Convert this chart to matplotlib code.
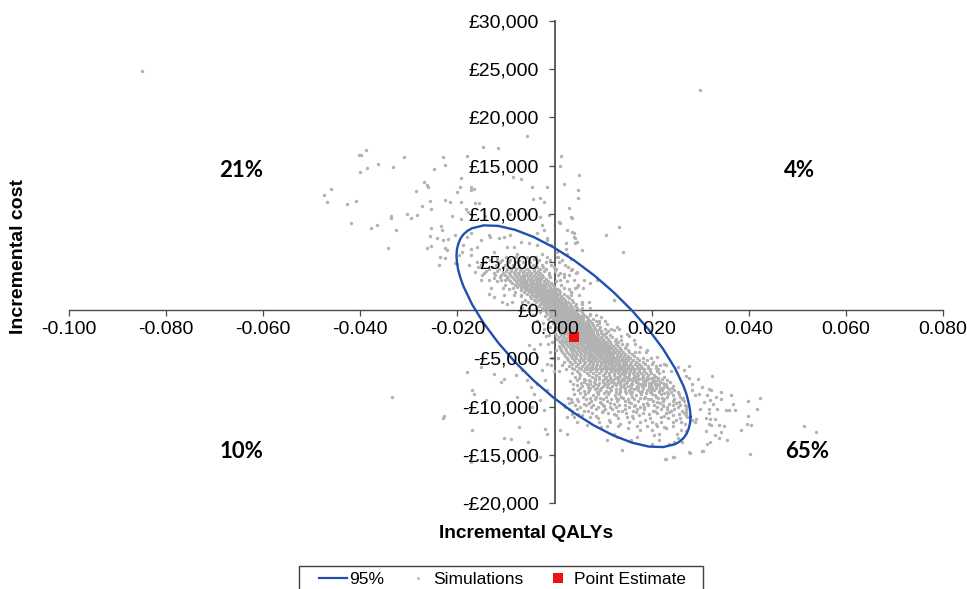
import numpy as np
import matplotlib
matplotlib.use('Agg')
import matplotlib.pyplot as plt
from matplotlib.lines import Line2D
from matplotlib.patches import Rectangle

plt.rcParams['font.family'] = ['Liberation Sans', 'DejaVu Sans']

# x values are in thousandths of a QALY, y values in pounds
x_ticks = [-0.100, -0.080, -0.060, -0.040, -0.020, 0.000, 0.020, 0.040, 0.060, 0.080]
x_tick_labels = ['-0.100', '-0.080', '-0.060', '-0.040', '-0.020', '0.000', '0.020', '0.040', '0.060', '0.080']
y_ticks = [30000, 25000, 20000, 15000, 10000, 5000, 0, -5000, -10000, -15000, -20000]
y_tick_labels = ['£30,000', '£25,000', '£20,000', '£15,000', '£10,000', '£5,000', '£0',
                 '-£5,000', '-£10,000', '-£15,000', '-£20,000']

point_estimate = (4.0, -2770)

ellipse_95 = [(28.0, -11075), (27.9, -11732), (27.6, -12317), (27.18, -12838), (26.55, -13271), (25.74, -13633),
              (24.77, -13906), (22.36, -14200), (19.39, -14144),
              (15.95, -13741), (12.14, -13000), (8.09, -11950), (3.9, -10617), (-0.29, -9040), (-4.34, -7275),
              (-8.15, -5370), (-11.59, -3383), (-14.56, -1376), (-16.97, 591), (-18.75, 2458), (-19.38, 3336),
              (-19.84, 4170), (-20.1, 4949), (-20.2, 5675), (-20.1, 6332), (-19.8, 6917), (-19.38, 7438),
              (-18.75, 7871), (-17.94, 8233), (-16.97, 8506), (-14.56, 8800), (-11.59, 8744),
              (-8.15, 8341), (-4.34, 7600), (-0.29, 6550), (3.9, 5217), (8.09, 3640), (12.14, 1875),
              (15.95, -30), (19.39, -2017), (22.36, -4024), (24.77, -5991), (26.55, -7858), (27.18, -8736),
              (27.6, -9570), (27.9, -10349), (28.0, -11075)]

# scattered simulations read one by one
sims_far = [(-85.0, 24800), (30.0, 22800), (-33.4, -9020), (13.3, 8650), (10.5, 7850), (14.1, 6020)]

sims_upper_left = [
    (-38.8, 16600), (-40.2, 16090), (-39.8, 16090), (-36.3, 15150), (-33.3, 14900), (-31.0, 15880), (-23.0, 15850),
    (-22.6, 15050), (-24.9, 14600), (-40.1, 14360), (-38.6, 14700), (-46.0, 12600), (-47.4, 11970), (-46.8, 11200),
    (-42.8, 11000), (-40.9, 11300), (-41.9, 9070), (-37.8, 8550), (-36.5, 8820), (-33.6, 9760), (-33.6, 9550),
    (-32.7, 8340), (-34.4, 6500), (-30.3, 10030), (-29.5, 9580), (-28.3, 9830), (-27.4, 10800), (-25.5, 10450),
    (-25.7, 11310), (-28.6, 12350), (-26.8, 13250), (-26.2, 12980), (-26.0, 12730), (-22.5, 11420), (-21.6, 11210),
    (-20.0, 12250), (-19.4, 12730), (-19.2, 13670), (-17.3, 12800), (-17.2, 12460), (-16.5, 12560), (-19.2, 11210),
    (-21.1, 9760), (-18.2, 10520), (-17.9, 10200), (-16.3, 11070), (-15.5, 11140), (-19.2, 9510), (-25.5, 8510),
    (-23.4, 8750), (-23.2, 8300), (-25.7, 7720), (-24.2, 7470), (-23.0, 7270), (-21.9, 7370), (-20.5, 7850),
    (-26.2, 6440), (-25.4, 6710), (-22.5, 6500), (-22.2, 6230), (-23.6, 5540), (-23.8, 4640), (-22.5, 5400),
    (-20.6, 4910), (-14.8, 16950), (-11.6, 16820), (-5.7, 18030), (-18.1, 15990), (-8.5, 13770), (-7.0, 13630),
    (-4.6, 12730), (-1.5, 12730), (-4.5, 11490), (-2.9, 11590), (-2.2, 11250), (-14.4, 9760), (-11.9, 9410),
    (-9.1, 9960), (-7.5, 10310), (-5.6, 10030), (-2.9, 9620), (-1.2, 9860), (-2.5, 8890), (-2.2, 8370),
    (-3.6, 7960), (-1.5, 7440), (1.4, 15990), (1.9, 13040), (5.1, 14010), (4.9, 11660), (3.0, 10550),
    (3.5, 9580), (0.9, 9170), (4.0, 7960), (4.3, 7440), (2.3, 6400), (0.5, 6050), (1.2, 15000), (4.9, 12440),
    (-18.0, 7610), (-17.3, 7960), (-19.0, 6060), (-19.7, 5710), (-20.0, 4840), (-17.6, 4670), (-18.8, 6750),
    (-17.3, 6400), (-15.9, 6570), (-15.2, 7270), (-13.5, 7790), (-13.2, 7610), (-11.5, 7440), (-10.4, 7610),
    (-9.1, 7790), (-7.0, 7090), (-5.3, 6920), (-3.6, 6750), (-1.5, 7270), (-9.7, 6570), (-8.4, 6570),
    (-12.5, 6060), (-11.8, 5360), (-15.9, 5020), (-16.3, 3980), (-15.2, 3110), (-13.5, 1730), (-12.5, 1380),
    (-10.8, 870), (-9.7, 690), (-12.5, 3290), (-11.1, 3110), (-7.7, 5880), (-5.6, 5540), (-4.3, 5360),
    (-2.5, 5880), (-0.8, 6750), (-17.3, 5710), (-14.6, 3810)]

sims_upper_right = [
    (1.9, 3800), (3.3, 4150), (4.7, 3980), (6.0, 3110), (7.4, 2770), (4.7, 2420), (3.3, 1900), (2.6, 8300),
    (3.6, 8130), (4.0, 7610), (4.3, 6920), (2.3, 6920), (1.2, 9000), (3.3, 9690), (4.7, 7090), (5.7, 6230),
    (2.6, 5880), (0.5, 5540), (3.3, 5360), (8.8, 3110), (12.2, 1040), (5.7, 690), (7.4, -350), (9.5, -690),
    (10.8, -1380), (12.9, -1730), (15.0, -2420), (16.3, -3110), (19.1, -4150), (21.1, -4840), (22.5, -5540),
    (17.7, -3800), (13.6, -3110), (12.2, -2080), (10.2, -2420)]

sims_lower_left = [
    (-22.8, -11000), (-18.0, -6400), (-17.0, -8300), (-16.6, -8650), (-15.2, -5880), (-12.5, -6570), (-11.1, -7440),
    (-10.4, -7090), (-14.2, -9340), (-7.3, -12110), (-8.9, -13360), (-5.5, -13670), (-1.9, -12280), (-1.5, -12800),
    (-3.9, -14880), (-2.9, -15220), (-9.7, -9690), (-7.7, -9000), (-4.6, -10030), (-4.3, -8650), (-2.9, -9340),
    (-2.2, -10380), (-5.6, -7270), (-8.0, -6750), (-6.7, -6230), (-4.9, -7960), (-3.6, -7610), (-1.5, -8300),
    (-1.9, -7270), (-2.5, -6230), (-1.5, -5540), (-5.3, -3630), (-4.3, -3980), (-2.9, -3460), (-3.6, -4840),
    (-5.3, -5190), (-22.9, -11200), (-17.3, -15760), (-16.9, -12440), (-10.5, -13270), (-8.0, -14700), (-15.2, -15500)]

sims_lower_right = [
    (25.5, -5880), (26.6, -6160), (27.7, -5810), (27.0, -6850), (27.7, -6990), (29.5, -7160), (32.4, -6850),
    (28.4, -7610), (30.4, -7960), (31.8, -8130), (32.3, -8300), (34.2, -8480), (36.4, -8750), (28.4, -8300),
    (29.7, -8650), (29.0, -8820), (31.4, -8820), (33.2, -9000), (34.2, -9170), (30.8, -9520), (32.1, -9270),
    (32.7, -9690), (29.9, -10210), (31.8, -10210), (33.4, -10280), (35.4, -10380), (35.9, -10310), (37.1, -10380),
    (39.8, -9450), (42.3, -9100), (41.7, -10280), (36.8, -9760), (31.8, -10620), (39.8, -11000), (39.7, -11760),
    (40.5, -11870), (38.5, -12390), (31.1, -11140), (32.1, -11250), (33.0, -11250), (29.2, -11250), (28.4, -11420),
    (29.0, -11590), (31.8, -11760), (32.3, -11940), (33.8, -11870), (34.9, -12010), (31.1, -12560), (34.2, -12630),
    (33.0, -12900), (33.8, -13250), (35.6, -13420), (32.1, -13670), (31.3, -13910), (30.6, -14640), (27.9, -14770),
    (40.2, -14880), (24.4, -15260), (22.7, -15470), (51.4, -12010), (53.9, -12630), (20.0, -12460), (21.5, -12800),
    (22.9, -12180), (26.0, -12390), (27.0, -12530), (21.5, -13420), (25.5, -13220), (23.5, -13840), (24.6, -13670),
    (20.1, -13910), (1.2, -12460), (2.6, -11070), (4.0, -11070), (4.7, -11590), (3.6, -10730), (6.7, -11940),
    (9.5, -12110), (10.8, -13490), (13.9, -14530), (15.7, -13490), (17.0, -13150), (12.2, -12800), (22.9, -15400),
    (24.6, -15220), (27.7, -14700), (30.4, -14600), (26.3, -13670), (12.9, -13150), (17.7, -12460), (20.5, -12980),
    (22.5, -12110), (25.3, -12800), (2.6, -12800)]

# the dense band, read row by row: (cost, [qalys along that row])
sims_band = [
    (5200, [-13.2, -10.8, -9.1, -7.4, -5.2, -3.3, -0.9, 1.6]),
    (4700, [-15.1, -12.1, -10.2, -8.6, -7.3, -6.0, -4.4, -2.6, -0.8, 2.2]),
    (4250, [-13.6, -11.4, -9.8, -8.9, -7.9, -6.9, -5.6, -4.2, -3.1, -1.7, 0.4, 3.5]),
    (3850, [-12.5, -10.6, -9.4, -8.3, -7.5, -6.6, -5.7, -4.8, -3.8, -2.9, -1.2, 1.1, 4.4]),
    (3450, [-11.2, -9.7, -8.7, -7.8, -7.0, -6.2, -5.4, -4.6, -3.9, -3.1, -2.3, -0.9, 1.9]),
    (3050, [-11.8, -9.1, -8.0, -7.2, -6.5, -5.8, -5.1, -4.4, -3.7, -3.0, -2.2, -1.4, 0.2, 2.6]),
    (2650, [-10.3, -8.2, -7.3, -6.6, -5.9, -5.2, -4.6, -3.9, -3.2, -2.5, -1.9, -1.2, -0.4, 1.4, 4.8]),
    (2250, [-9.4, -7.0, -6.1, -5.4, -4.8, -4.1, -3.5, -2.9, -2.3, -1.7, -1.0, -0.4, 0.6, 2.9]),
    (1850, [-8.1, -6.2, -5.3, -4.6, -4.0, -3.4, -2.8, -2.2, -1.6, -1.0, -0.4, 0.2, 1.1, 3.4]),
    (1450, [-6.9, -5.0, -4.2, -3.6, -3.0, -2.4, -1.8, -1.2, -0.6, 0.0, 0.6, 1.4, 2.6]),
    (1050, [-6.0, -4.3, -3.4, -2.8, -2.2, -1.6, -1.0, -0.4, 0.2, 0.8, 1.4, 2.2, 3.6]),
    (650, [-4.6, -3.1, -2.4, -1.8, -1.2, -0.6, 0.0, 0.6, 1.2, 1.8, 2.4, 3.1, 4.4]),
    (250, [-3.9, -2.6, -1.9, -1.3, -0.7, -0.1, 0.5, 1.1, 1.7, 2.3, 2.9, 3.6, 4.7]),
    (-150, [-2.9, -1.7, -1.0, -0.4, 0.2, 0.8, 1.4, 2.0, 2.6, 3.2, 3.8, 4.5, 5.6]),
    (-550, [-2.0, -1.0, -0.3, 0.3, 0.9, 1.5, 2.1, 2.7, 3.3, 3.9, 4.5, 5.2, 6.2]),
    (-950, [-1.4, -0.4, 0.4, 1.0, 1.6, 2.2, 2.8, 3.4, 4.0, 4.6, 5.2, 5.9, 6.9, 8.0]),
    (-1350, [-2.4, -0.3, 0.6, 1.3, 2.0, 2.6, 3.2, 3.8, 4.4, 5.0, 5.6, 6.2, 6.9, 7.8, 9.1]),
    (-1750, [-1.0, 0.3, 1.1, 1.8, 2.5, 3.1, 3.7, 4.3, 4.9, 5.5, 6.1, 6.7, 7.4, 8.2, 9.4]),
    (-2150, [-0.2, 0.9, 1.7, 2.4, 3.0, 3.6, 4.2, 4.8, 5.4, 6.0, 6.6, 7.2, 7.9, 8.7, 9.6, 11.0]),
    (-2550, [-1.1, 0.4, 1.3, 2.0, 2.7, 3.3, 3.9, 4.5, 5.1, 5.7, 6.3, 6.9, 7.5, 8.2, 9.0, 10.0, 11.4]),
    (-2950, [0.6, 1.6, 2.4, 3.1, 3.7, 4.3, 4.9, 5.5, 6.1, 6.7, 7.3, 7.9, 8.5, 9.2, 10.0, 11.0, 12.6]),
    (-3350, [-0.6, 1.2, 2.1, 2.9, 3.6, 4.3, 4.9, 5.5, 6.1, 6.7, 7.3, 7.9, 8.5, 9.1, 9.8, 10.6, 11.5, 13.0]),
    (-3750, [0.9, 1.8, 2.7, 3.5, 4.2, 4.9, 5.6, 6.3, 6.9, 7.5, 8.1, 8.7, 9.3, 9.9, 10.5, 11.2, 12.0, 13.0, 14.8]),
    (-4150, [0.3, 1.4, 2.4, 3.3, 4.1, 4.9, 5.6, 6.3, 7.0, 7.7, 8.3, 8.9, 9.5, 10.1, 10.7, 11.3, 12.0, 12.8, 13.7, 15.1]),
    (-4550, [1.9, 2.9, 3.8, 4.7, 5.5, 6.3, 7.1, 7.8, 8.5, 9.1, 9.7, 10.3, 10.9, 11.5, 12.1, 12.8, 13.6, 14.5, 16.0]),
    (-4950, [0.8, 2.5, 3.5, 4.5, 5.4, 6.3, 7.1, 7.9, 8.6, 9.3, 10.0, 10.6, 11.2, 11.8, 12.4, 13.1, 13.8, 14.7, 15.6, 17.0]),
    (-5350, [2.0, 3.1, 4.2, 5.3, 6.3, 7.2, 8.0, 8.8, 9.5, 10.2, 10.9, 11.5, 12.1, 12.7, 13.3, 14.0, 14.8, 15.7, 16.7, 18.3, 20.2]),
    (-5750, [3.0, 4.4, 5.6, 6.7, 7.7, 8.6, 9.4, 10.2, 10.9, 11.6, 12.3, 13.0, 13.7, 14.4, 15.2, 16.0, 16.9, 17.9, 19.2, 20.8]),
    (-6150, [2.4, 4.0, 5.4, 6.7, 7.8, 8.8, 9.7, 10.6, 11.4, 12.1, 12.8, 13.5, 14.2, 14.9, 15.7, 16.5, 17.4, 18.4, 19.6, 21.3]),
    (-6550, [3.5, 5.0, 6.6, 8.0, 9.2, 10.3, 11.3, 12.2, 13.0, 13.8, 14.6, 15.4, 16.2, 17.0, 17.9, 18.8, 19.9, 21.6]),
    (-6950, [4.2, 7.7, 10.5, 12.8, 14.7, 16.5, 18.3, 20.5]),
    (-7120, [6.0, 9.2, 11.7, 13.8, 15.6, 17.4, 19.3, 22.1]),
    (-7350, [3.1, 7.3, 10.8, 13.6, 16.0, 18.2, 20.7]),
    (-7560, [5.4, 9.1, 12.3, 14.8, 17.1, 19.4, 22.4]),
    (-7780, [4.6, 8.9, 12.7, 15.8, 18.6, 21.6]),
    (-7950, [6.8, 10.9, 14.3, 17.2, 20.0, 23.2]),
    (-8220, [3.8, 8.4, 12.7, 16.4, 19.8, 23.5]),
    (-8410, [6.0, 10.6, 14.6, 18.1, 21.5]),
    (-8630, [5.3, 10.2, 14.7, 18.8, 22.6]),
    (-8840, [7.9, 12.4, 16.8, 20.7, 24.4]),
    (-9060, [2.7, 7.2, 12.6, 17.6, 22.1]),
    (-9250, [4.7, 10.0, 15.1, 19.9, 24.5]),
    (-9500, [3.6, 9.3, 15.4, 21.0, 25.6]),
    (-9690, [6.1, 12.2, 18.3, 23.6]),
    (-9880, [1.9, 8.0, 14.6, 20.5, 25.9]),
    (-10090, [5.2, 11.4, 17.6, 23.2]),
    (-10280, [3.0, 10.3, 17.0, 23.1]),
    (-10500, [6.9, 13.8, 20.2, 26.3]),
    (-10720, [4.9, 12.3, 19.4, 25.6]),
    (-10930, [8.6, 15.9, 22.6]),
    (-11120, [7.4, 14.9, 21.9, 27.2]),
    (-11340, [11.2, 18.6, 25.0]),
    (-11560, [9.1, 17.6, 24.3]),
    (-11780, [13.5, 20.8, 26.8]),
    (-12050, [10.7, 19.1]),
    (-12260, [15.2, 23.0])]

# rows in between, where the band is thickest
sims_band_between = [
    (3650, [-10.2, -9.2, -8.2, -7.4, -6.6, -5.8, -5.0, -4.2, -3.4]),
    (3250, [-9.6, -8.4, -7.6, -6.9, -6.2, -5.5, -4.8, -4.1, -3.4, -2.7, -1.8]),
    (2850, [-8.8, -7.7, -7.0, -6.3, -5.6, -4.9, -4.2, -3.6, -2.9, -2.2, -1.5, -0.7]),
    (2450, [-7.7, -6.9, -6.2, -5.6, -4.9, -4.3, -3.6, -3.0, -2.4, -1.7, -1.0, -0.1]),
    (2050, [-7.0, -5.8, -5.0, -4.4, -3.8, -3.2, -2.6, -2.0, -1.3, -0.7, 0.0, 0.9]),
    (1650, [-5.6, -4.7, -3.9, -3.3, -2.7, -2.1, -1.5, -0.9, -0.3, 0.3, 1.0, 2.0]),
    (1250, [-4.9, -3.9, -3.1, -2.5, -1.9, -1.3, -0.7, -0.1, 0.5, 1.1, 1.8, 2.9]),
    (850, [-3.8, -2.8, -2.1, -1.5, -0.9, -0.3, 0.3, 0.9, 1.5, 2.1, 2.8, 3.9]),
    (450, [-3.2, -2.2, -1.6, -1.0, -0.4, 0.2, 0.8, 1.4, 2.0, 2.6, 3.3, 4.2]),
    (50, [-2.4, -1.4, -0.8, -0.2, 0.4, 1.0, 1.6, 2.2, 2.8, 3.4, 4.1, 5.0]),
    (-350, [-1.5, -0.7, 0.0, 0.6, 1.2, 1.8, 2.4, 3.0, 3.6, 4.2, 4.9, 5.9]),
    (-750, [-0.9, 0.0, 0.7, 1.3, 1.9, 2.5, 3.1, 3.7, 4.3, 4.9, 5.6, 6.6]),
    (-1150, [-0.7, 0.2, 1.0, 1.7, 2.3, 2.9, 3.5, 4.1, 4.7, 5.3, 5.9, 6.6, 7.4, 8.6]),
    (-1550, [0.0, 0.9, 1.6, 2.3, 2.9, 3.5, 4.1, 4.7, 5.3, 5.9, 6.5, 7.1, 7.9, 8.8]),
    (-1950, [0.6, 1.4, 2.1, 2.8, 3.4, 4.0, 4.6, 5.2, 5.8, 6.4, 7.0, 7.6, 8.4, 9.2, 10.3]),
    (-2350, [0.1, 1.1, 1.9, 2.6, 3.2, 3.8, 4.4, 5.0, 5.6, 6.2, 6.8, 7.4, 8.0, 8.7, 9.5, 10.6]),
    (-2750, [1.0, 2.0, 2.8, 3.4, 4.0, 4.6, 5.2, 5.8, 6.4, 7.0, 7.6, 8.2, 8.8, 9.6, 10.5, 11.8]),
    (-3150, [0.9, 1.8, 2.6, 3.3, 4.0, 4.6, 5.2, 5.8, 6.4, 7.0, 7.6, 8.2, 8.8, 9.5, 10.2, 11.2, 12.4]),
    (-3550, [1.5, 2.4, 3.2, 3.9, 4.6, 5.3, 5.9, 6.6, 7.2, 7.8, 8.4, 9.0, 9.6, 10.2, 10.9, 11.7, 12.6, 13.8]),
    (-3950, [1.1, 2.2, 3.1, 3.9, 4.6, 5.3, 6.0, 6.7, 7.3, 8.0, 8.6, 9.2, 9.8, 10.4, 11.0, 11.7, 12.5, 13.4, 14.6]),
    (-4350, [1.5, 2.6, 3.5, 4.4, 5.2, 6.0, 6.7, 7.4, 8.1, 8.7, 9.3, 9.9, 10.5, 11.2, 11.8, 12.5, 13.2, 14.1, 15.3, 16.6]),
    (-4750, [2.2, 3.3, 4.3, 5.2, 6.0, 6.8, 7.5, 8.2, 8.9, 9.6, 10.3, 10.9, 11.5, 12.1, 12.8, 13.5, 14.3, 15.2, 16.4]),
    (-5150, [2.8, 4.0, 5.0, 5.9, 6.8, 7.6, 8.4, 9.1, 9.9, 10.6, 11.2, 11.8, 12.4, 13.0, 13.7, 14.4, 15.2, 16.2, 17.4, 19.0]),
    (-5550, [3.6, 4.9, 6.0, 7.0, 7.9, 8.8, 9.6, 10.4, 11.2, 11.9, 12.6, 13.3, 14.0, 14.8, 15.6, 16.5, 17.4, 18.6, 20.0]),
    (-5950, [3.6, 5.0, 6.3, 7.4, 8.4, 9.3, 10.2, 11.0, 11.8, 12.5, 13.2, 13.9, 14.6, 15.4, 16.2, 17.1, 18.1, 19.3, 20.9]),
    (-6350, [4.6, 6.0, 7.3, 8.5, 9.6, 10.6, 11.6, 12.4, 13.2, 14.0, 14.8, 15.6, 16.4, 17.4, 18.4, 19.6, 21.0]),
    (-6750, [5.2, 7.0, 8.6, 10.0, 11.2, 12.3, 13.4, 14.4, 15.4, 16.3, 17.2, 18.2, 19.2, 20.4]),
    (-7250, [6.3, 8.4, 10.0, 12.0, 14.4, 16.6, 18.9, 21.3]),
    (-7650, [7.4, 10.4, 13.5, 16.0, 18.2, 20.6]),
    (-8050, [5.2, 9.6, 13.5, 16.8, 20.8, 22.4]),
    (-8450, [8.8, 12.7, 16.0, 19.6, 23.2]),
    (-9150, [9.4, 14.1, 18.4, 21.3, 26.4]),
    (-9950, [10.1, 16.3, 22.4, 27.0]),
    (-10600, [9.8, 16.8, 23.6, 27.1])]

# lower end of the band, where it spreads out
sims_band_lower = [
    (-6880, [9.1, 11.5, 13.2, 15.1, 17.0, 19.0, 20.9, 22.6]),
    (-7050, [5.0, 8.3, 10.4, 12.4, 14.2, 16.1, 18.0, 19.9, 21.4]),
    (-7200, [4.6, 7.0, 9.9, 11.0, 13.1, 15.1, 17.0, 18.6, 20.2, 23.2]),
    (-7450, [6.0, 8.2, 10.0, 11.7, 13.0, 15.0, 16.7, 18.6, 20.0, 21.8, 23.8]),
    (-7620, [3.9, 6.6, 8.3, 11.1, 12.6, 14.3, 15.7, 17.7, 19.8, 21.2, 23.0]),
    (-7850, [5.6, 7.9, 9.9, 11.8, 13.6, 15.2, 17.0, 18.0, 19.5, 20.8, 22.6, 24.4]),
    (-8100, [7.2, 8.7, 11.4, 14.6, 15.8, 18.3, 19.4, 21.8, 24.1]),
    (-8300, [4.8, 7.0, 9.4, 11.6, 13.4, 15.4, 17.2, 19.0, 20.5, 22.2, 24.6]),
    (-8520, [6.8, 9.0, 11.2, 13.4, 15.6, 17.6, 19.8, 21.6, 24.0, 25.4]),
    (-8740, [4.1, 6.3, 9.0, 11.0, 13.3, 15.7, 17.8, 20.0, 22.0, 23.4, 25.6]),
    (-8960, [5.8, 8.6, 10.6, 13.6, 15.9, 18.6, 20.8, 23.2, 25.8]),
    (-9180, [3.4, 6.5, 8.4, 11.6, 13.0, 16.4, 19.2, 22.6, 24.6, 26.2]),
    (-9400, [4.9, 7.6, 10.8, 12.9, 14.6, 17.2, 20.2, 22.4, 24.4, 26.7]),
    (-9620, [3.0, 7.1, 9.6, 11.4, 15.8, 19.0, 21.8, 25.0]),
    (-9820, [4.3, 6.5, 10.0, 13.2, 16.6, 19.3, 22.3, 24.4, 26.9]),
    (-10020, [2.2, 7.5, 9.0, 12.6, 15.3, 18.4, 21.2, 25.4]),
    (-10220, [4.6, 8.6, 11.8, 14.6, 18.5, 21.9, 24.6, 27.0]),
    (-10420, [3.6, 6.0, 9.9, 13.1, 16.1, 20.6, 24.0]),
    (-10700, [7.7, 11.0, 14.8, 18.2, 21.0, 23.0, 26.6]),
    (-10900, [5.6, 12.6, 17.4, 24.3, 27.0]),
    (-11200, [9.0, 13.0, 16.2, 19.6, 23.4, 25.9]),
    (-11600, [11.4, 15.4, 20.0, 22.0, 26.0]),
    (-12000, [13.0, 16.9, 21.1, 24.4])]

# thinner dots either side of the band
sims_band_edges = [
    (5500, [-14.0, -11.8, -9.9, -8.0, -6.4, -3.9, -1.6, 0.8]),
    (4950, [-14.4, -11.3, -9.3, -7.8, -6.6, -5.0, -3.6, -1.7, 1.0]),
    (4450, [-15.8, -12.8, -10.7, -9.3, -8.4, -7.4, -6.3, -5.0, -3.6, -2.3, -0.2, 2.7]),
    (4050, [-14.1, -11.8, -10.1, -9.0, -8.1, -7.2, -6.3, -5.3, -4.3, -3.4, -2.1, 0.0]),
    (3620, [-14.9, -12.2, -11.0, -2.5, -1.1, 0.7, 3.0]),
    (3100, [-13.4, -10.3, 1.2, 4.0]),
    (2300, [-13.0, -10.7, -8.6, 1.9, 4.2, 5.9]),
    (1600, [-10.4, -8.4, -6.9, 3.4, 5.1]),
    (900, [-8.8, -6.8, -5.4, 5.6, 7.0]),
    (200, [-6.8, -5.2, 5.7, 7.2]),
    (-500, [-4.4, 7.3, 8.6]),
    (-1100, [-3.7, 9.2, 10.4]),
    (-2000, [-2.2, 11.6, 13.2]),
    (-2700, [-1.8, 13.6, 15.4]),
    (-3550, [-1.4, 14.9, 16.6]),
    (-4300, [-0.9, 17.4, 18.8]),
    (-5000, [-0.6, 18.2, 19.8]),
    (-5700, [-0.8, 1.6, 21.8, 23.0]),
    (-6300, [-0.2, 1.0, 22.4, 24.0])]

quadrant_labels = ['21%', '4%', '10%', '65%']
quadrant_x = [-0.0645, 0.0505, -0.0645, 0.052]
quadrant_y = [14500, 14500, -14700, -14700]

scattered = sims_far + sims_upper_left + sims_upper_right + sims_lower_left + sims_lower_right
rows = sims_band + sims_band_between + sims_band_lower + sims_band_edges
sim_x = [p[0] for p in scattered] + [x for row_y, row_x in rows for x in row_x]
sim_y = [p[1] for p in scattered] + [row_y for row_y, row_x in rows for x in row_x]
sim_x = np.array(sim_x) / 1000
sim_y = np.array(sim_y)

ell_x = np.array([p[0] for p in ellipse_95]) / 1000
ell_y = np.array([p[1] for p in ellipse_95])

W, H = 967, 589
fig = plt.figure(figsize=(W / 100, H / 100), dpi=100)
ax = fig.add_axes([69 / W, 1 - 503 / H, 874 / W, 482 / H])

grey = '#b2b2b2'
blue = '#1f4fb0'

ax.scatter(sim_x, sim_y, s=6, color=grey, linewidths=0, zorder=3)
ax.plot(ell_x, ell_y, color=blue, lw=1.7, zorder=4)
ax.scatter([point_estimate[0] / 1000], [point_estimate[1]], marker='s', s=60, color='#ee1111', linewidths=0, zorder=4.5)

ax.set_xlim(-0.100, 0.080)
ax.set_ylim(-20000, 30000)

for s in ['top', 'right']:
    ax.spines[s].set_visible(False)
ax.spines['left'].set_position(('data', 0))
ax.spines['bottom'].set_position(('data', 0))
ax.spines['left'].set_color('#5f5f5f')
ax.spines['left'].set_linewidth(1.4)
ax.spines['bottom'].set_color('#4a4a4a')
ax.spines['bottom'].set_linewidth(1.0)
ax.spines['left'].set_zorder(1)
ax.spines['bottom'].set_zorder(1)

ax.set_xticks(x_ticks)
ax.set_xticklabels(x_tick_labels)
ax.set_yticks(y_ticks)
ax.set_yticklabels(y_tick_labels)
ax.tick_params(axis='x', direction='out', length=4.5, width=0.9, color='#4a4a4a', labelsize=14, pad=3.5)
ax.tick_params(axis='y', direction='out', length=4.5, width=0.9, color='#4a4a4a', labelsize=14, pad=6.5)
ax.xaxis.set_zorder(5)
ax.yaxis.set_zorder(5)

for lab, qx, qy in zip(quadrant_labels, quadrant_x, quadrant_y):
    ax.text(qx, qy, lab, fontsize=16, fontweight='bold', family='Lato', ha='center', va='center', zorder=6)

fig.text(526 / W, 1 - 534 / H, 'Incremental QALYs', fontsize=13.8, fontweight='bold', ha='center', va='center')
fig.text(19 / W, 1 - 257 / H, 'Incremental cost', fontsize=14, fontweight='bold', rotation=90, ha='center', va='center')

# legend box runs off the bottom of the image
fig.add_artist(Rectangle((299 / W, 1 - 600 / H), 404 / W, 34.5 / H, transform=fig.transFigure,
                         facecolor='white', edgecolor='#404040', lw=1.0))
handles = [Line2D([], [], color=blue, lw=1.6),
           Line2D([], [], ls='', marker='o', ms=2.0, color=grey, mew=0),
           Line2D([], [], ls='', marker='s', ms=6.5, color='#ee1111', mew=0)]
fig.legend(handles, ['95%', 'Simulations', 'Point Estimate'], ncol=3, frameon=False, fontsize=12.5,
           loc='center left', bbox_to_anchor=(319 / W, 1 - 579 / H), borderpad=0, borderaxespad=0,
           handlelength=1.6, handletextpad=0.12, columnspacing=1.15)

fig.savefig('out.png', dpi=100)
